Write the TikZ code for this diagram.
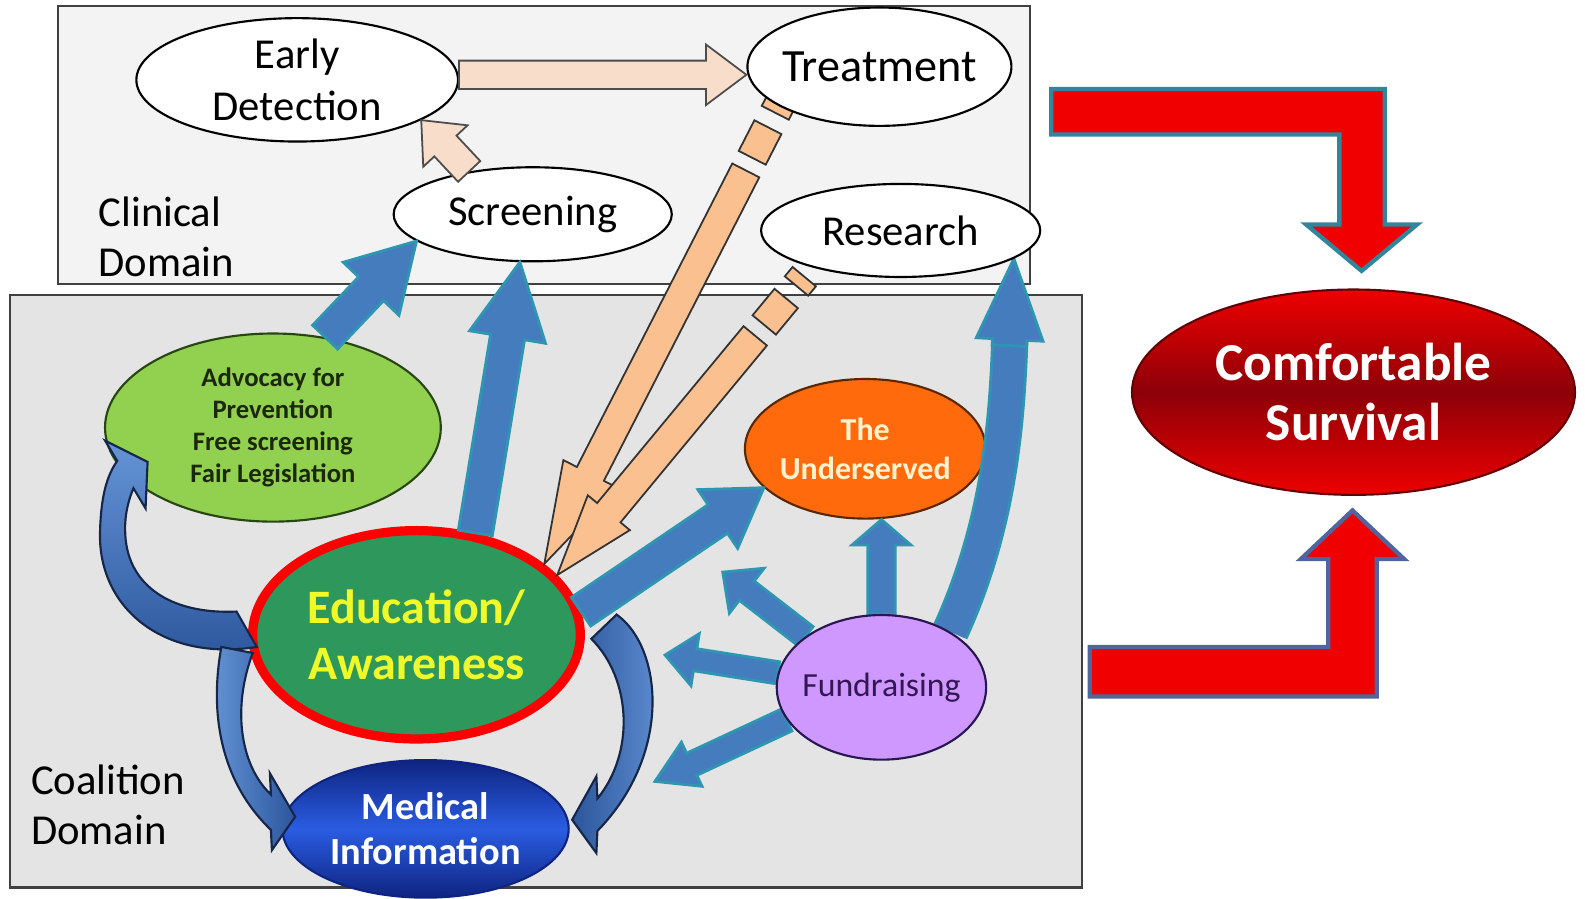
\documentclass[tikz,border=0pt]{standalone}
\usepackage{fontspec}
\setmainfont{Carlito}
\usetikzlibrary{shapes.geometric, positioning, calc}

\definecolor{clinfill}{RGB}{243,243,243}
\definecolor{coalfill}{RGB}{228,228,228}
\definecolor{boxline}{RGB}{64,64,64}
\definecolor{peach}{RGB}{248,221,202}
\definecolor{orangefill}{RGB}{250,192,144}
\definecolor{bluefill}{RGB}{68,124,190}
\definecolor{blueline}{RGB}{46,150,178}
\definecolor{curllight}{RGB}{100,148,214}
\definecolor{curldark}{RGB}{44,86,156}
\definecolor{curlline}{RGB}{22,38,72}
\definecolor{advfill}{RGB}{146,208,80}
\definecolor{advline}{RGB}{40,70,20}
\definecolor{advtext}{RGB}{28,40,14}
\definecolor{edufill}{RGB}{46,152,92}
\definecolor{edutext}{RGB}{240,250,40}
\definecolor{meddark}{RGB}{14,36,128}
\definecolor{medlight}{RGB}{42,92,226}
\definecolor{underfill}{RGB}{255,106,12}
\definecolor{undline}{RGB}{90,40,0}
\definecolor{undertext}{RGB}{255,242,204}
\definecolor{fundfill}{RGB}{206,152,255}
\definecolor{fundline}{RGB}{40,24,80}
\definecolor{fundtext}{RGB}{52,22,84}
\definecolor{survred}{RGB}{238,0,0}
\definecolor{survdark}{RGB}{140,0,8}
\definecolor{bentred}{RGB}{240,0,0}
\definecolor{bentteal}{RGB}{49,133,156}
\definecolor{bentblue}{RGB}{80,100,160}

\pgfdeclarelayer{boxes}
\pgfdeclarelayer{front}
\pgfsetlayers{boxes,main,front}

% straight block arrow: style, from, tip, shaft half width, head half width, head length
\newcommand{\blockarrow}[6][]{%
  \coordinate (ba-base) at ($(#3)!#6!(#2)$);
  \path[#1] ($(#2)!#4!90:(#3)$) -- ($(ba-base)!#4!90:(#3)$)
    -- ($(ba-base)!#5!90:(#3)$) -- (#3)
    -- ($(ba-base)!#5!-90:(#3)$) -- ($(ba-base)!#4!-90:(#3)$)
    -- ($(#2)!#4!-90:(#3)$) -- cycle;
}
% one stripe of a striped arrow
\newcommand{\stripseg}[6][]{%
  \coordinate (sg-a) at ($(#2)!#4!(#3)$);
  \coordinate (sg-b) at ($(#2)!#5!(#3)$);
  \path[#1] ($(sg-a)!#6!90:(#3)$) -- ($(sg-b)!#6!90:(#3)$)
    -- ($(sg-b)!#6!-90:(#3)$) -- ($(sg-a)!#6!-90:(#3)$) -- cycle;
}
\newcommand{\stripedarrow}[6][]{%
  \stripseg[#1]{#2}{#3}{1.0mm}{2.2mm}{#4}
  \stripseg[#1]{#2}{#3}{3.8mm}{7.2mm}{#4}
  \coordinate (sa-body) at ($(#2)!8.6mm!(#3)$);
  \blockarrow[#1]{sa-body}{#3}{#4}{#5}{#6}
}

\begin{document}
\begin{tikzpicture}[x=0.01cm, y=-0.01cm,
    bubble/.style={ellipse, draw=black, line width=0.6pt, fill=white, inner sep=0pt},
    inlbl/.style={align=center, inner sep=0pt, font=\fontsize{12}{14.5}\selectfont},
    domlbl/.style={align=left, inner sep=0pt, anchor=west, font=\fontsize{12}{14}\selectfont},
    bluearrow/.style={fill=bluefill, draw=blueline, line width=0.8pt},
    peacharrow/.style={fill=peach, draw=gray!60!black, line width=0.5pt},
    stripearrow/.style={fill=orangefill, draw=black!80, line width=0.5pt},
    curlarrow/.style={left color=curllight, right color=curldark, draw=curlline, line width=0.6pt},
    bentarrow/.style={fill=bentred, line width=1.2pt}]

\useasboundingbox (0,0) rectangle (1568,889);

% domains
\begin{pgfonlayer}{boxes}
\draw[fill=clinfill, draw=boxline, line width=0.6pt] (57,6) rectangle (1019,281);
\draw[fill=coalfill, draw=boxline, line width=0.6pt] (10,292) rectangle (1070,878);
\end{pgfonlayer}
\node[domlbl] (clinical) at (97,234) {Clinical\\Domain};
\node[domlbl] (coalition) at (30,796) {Coalition\\Domain};

% nodes in front of the arrows
\begin{pgfonlayer}{front}
\node[bubble, minimum width=2.61cm, minimum height=1.17cm,
      label={[inlbl, name=treat-t, font=\fontsize{13}{15}\selectfont]center:Treatment}] (treat) at (870,66) {};
\node[bubble, minimum width=2.76cm, minimum height=0.92cm,
      label={[inlbl, name=research-t]center:Research}] (research) at (891,228) {};
\node[bubble, fill=fundfill, draw=fundline, minimum width=2.07cm, minimum height=1.43cm,
      label={[inlbl, name=fund-t, text=fundtext, font=\fontsize{9.5}{11}\selectfont]center:Fundraising}] (fund) at (872,680) {};
\end{pgfonlayer}

% clinical nodes
\node[bubble, minimum width=3.18cm, minimum height=1.22cm,
      label={[inlbl, name=ed-t]center:Early\\Detection}] (ed) at (294,79) {};
\node[bubble, minimum width=2.75cm, minimum height=0.93cm,
      label={[inlbl, name=screen-t]center:Screening}] (screen) at (527,212) {};

% coalition nodes
\node[bubble, fill=advfill, draw=advline, minimum width=3.32cm, minimum height=1.86cm,
      label={[inlbl, name=adv-t, text=advtext, font=\bfseries\fontsize{7.5}{9}\selectfont]center:Advocacy for\\Prevention\\Free screening\\Fair Legislation}] (adv) at (270,423) {};
\node[bubble, fill=edufill, draw=red, line width=2.6pt, minimum width=3.24cm, minimum height=2.06cm,
      label={[inlbl, name=edu-t, text=edutext, font=\bfseries\fontsize{13.5}{16}\selectfont]center:Education/\\Awareness}] (edu) at (412,628) {};
\node[ellipse, inner sep=0pt, draw=meddark, line width=0.6pt,
      top color=meddark, bottom color=meddark, middle color=medlight,
      minimum width=2.83cm, minimum height=1.36cm,
      label={[inlbl, name=med-t, text=white, font=\bfseries\fontsize{10.8}{12.8}\selectfont]center:Medical\\Information}] (med) at (421,820) {};
\node[bubble, fill=underfill, draw=undline, minimum width=2.38cm, minimum height=1.38cm,
      label={[inlbl, name=under-t, text=undertext, font=\bfseries\fontsize{9}{10.8}\selectfont]center:The\\Underserved}] (under) at (856,444) {};

% outcome
\node[ellipse, inner sep=0pt, draw=survdark!70!black, line width=0.6pt,
      top color=survred, bottom color=survred, middle color=survdark,
      minimum width=4.38cm, minimum height=2.03cm,
      label={[inlbl, name=surv-t, text=white, font=\bfseries\fontsize{15}{17}\selectfont]center:Comfortable\\Survival}] (surv) at (1339,388) {};

% clinical flow
\coordinate (ed-out) at ($(ed.east)+(0,-5)$);
\coordinate (tr-in) at (treat.west |- ed-out);
\blockarrow[peacharrow]{ed-out}{tr-in}{1.4mm}{3mm}{4mm}
\blockarrow[peacharrow]{screen.146}{ed.342}{1.5mm}{3mm}{3.5mm}

% treatment and research feed back
\coordinate (tr-out) at ($(treat.center)+(-93,26)$);
\coordinate (rs-out) at ($(research.center)+(-89,38)$);
\stripedarrow[stripearrow]{tr-out}{edu.29}{1.5mm}{3mm}{10mm}
\stripedarrow[stripearrow]{rs-out}{edu.23}{1.5mm}{2.7mm}{8mm}

% coalition outputs
\blockarrow[bluearrow]{adv.60}{screen.193}{1.7mm}{3.8mm}{6.5mm}
\blockarrow[bluearrow]{edu.60}{screen.255}{1.7mm}{3.8mm}{7.5mm}
\blockarrow[bluearrow]{edu.8}{under.201}{1.7mm}{3.5mm}{5.5mm}

% fundraising
\coordinate (fu-in) at (fund.north |- under.south);
\blockarrow[bluearrow]{fund.north}{fu-in}{1.35mm}{2.9mm}{2.5mm}
\coordinate (rs-base) at ($(research.346)+(-4,80)$);
\coordinate (rs-stub) at ($(research.346)+(-4.5,86)$);
\draw[bluearrow, fill=none, double=bluefill, double distance=3.12mm]
  (fund.39) .. controls (988,520) and (996,420) .. (rs-base);
\blockarrow[bluearrow]{rs-stub}{research.346}{1.7mm}{3.3mm}{8mm}
\coordinate (fr-a) at (715,566);
\coordinate (fr-b) at (658,648);
\coordinate (fr-c) at (648,773);
\blockarrow[bluearrow]{fund.146}{fr-a}{1.2mm}{2.8mm}{3mm}
\blockarrow[bluearrow]{fund.172}{fr-b}{1.1mm}{2.6mm}{3mm}
\blockarrow[bluearrow]{fund.199}{fr-c}{1.2mm}{2.4mm}{4mm}

% curved arrows round education
\path[curlarrow, top color=curllight, bottom color=curldark] (234,605) -- (254,640)
  .. controls (160,655) and (96,600) .. (99,525)
  .. controls (100,490) and (106,470) .. (116,456)
  -- (104,436) -- (146,457) -- (144,503) -- (132,483)
  .. controls (125,500) and (123,515) .. (124,530)
  .. controls (127,580) and (170,608) .. cycle;
\path[curlarrow] (250,646) -- (219,640)
  .. controls (208,700) and (215,770) .. (268,821)
  -- (269,841) -- (292,808) -- (267,765) -- (268,786)
  .. controls (240,760) and (228,705) .. cycle;
\path[curlarrow, left color=curldark, right color=curllight] (585,632) -- (610,608)
  .. controls (655,640) and (666,745) .. (591,822)
  -- (590,844) -- (566,811) -- (590,768) -- (591,790)
  .. controls (628,745) and (625,672) .. cycle;

% towards survival
\path[bentarrow, draw=bentteal] (1040,88) -- (1370,88) -- (1370,222) -- (1402,222)
  -- (1347,268) -- (1292,222) -- (1325,222) -- (1325,133) -- (1040,133) -- cycle;
\path[bentarrow, draw=bentblue] (1078,640) -- (1314,640) -- (1314,553) -- (1287,553)
  -- (1338,505) -- (1389,553) -- (1362,553) -- (1362,689) -- (1078,689) -- cycle;

\end{tikzpicture}
\end{document}
